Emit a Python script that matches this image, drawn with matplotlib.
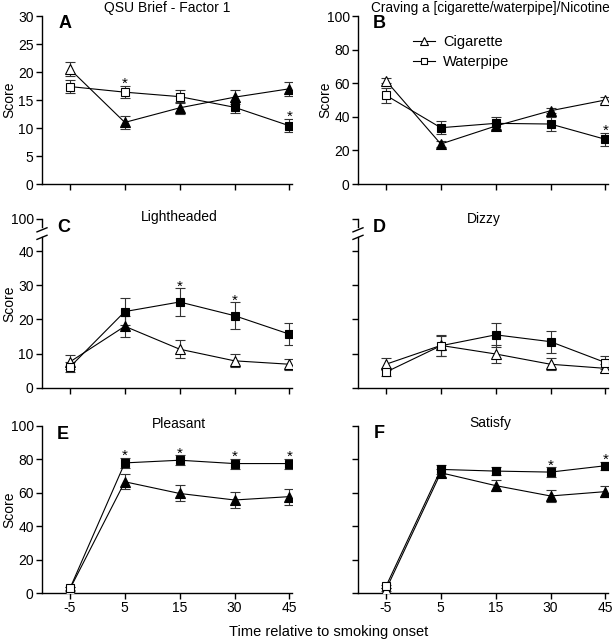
import numpy as np
import matplotlib
matplotlib.use('Agg')
import matplotlib.pyplot as plt
from matplotlib.lines import Line2D

plt.rcParams['font.family'] = ['Liberation Sans', 'DejaVu Sans']

times = ['-5', '5', '15', '30', '45']

# A - QSU Brief factor 1
qsu_cig = [20.5, 11.0, 13.6, 15.5, 17.0]
qsu_cig_sem = [1.2, 1.2, 1.1, 1.3, 1.2]
qsu_cig_fill = [0, 1, 1, 1, 1]
qsu_wp = [17.4, 16.4, 15.6, 13.7, 10.4]
qsu_wp_sem = [1.2, 1.1, 1.2, 1.0, 1.2]
qsu_wp_fill = [0, 0, 0, 1, 1]
qsu_star = [0, 1, 0, 0, 1]

# B - craving
crave_cig = [61.5, 23.8, 34.5, 43.6, 50.0]
crave_cig_sem = [1.5, 1.5, 2.0, 1.5, 1.5]
crave_cig_fill = [0, 1, 1, 1, 0]
crave_wp = [52.8, 33.5, 36.1, 35.7, 26.6]
crave_wp_sem = [4.5, 3.8, 4.0, 4.0, 4.0]
crave_wp_fill = [0, 1, 1, 1, 1]
crave_star = [0, 0, 0, 0, 1]

# C - lightheaded
light_cig = [7.6, 18.0, 11.3, 7.9, 6.9]
light_cig_sem = [2.0, 3.0, 2.7, 1.9, 1.6]
light_cig_fill = [0, 1, 0, 0, 0]
light_wp = [6.1, 22.3, 25.1, 21.1, 15.7]
light_wp_sem = [1.5, 3.9, 4.0, 3.9, 3.2]
light_wp_fill = [0, 1, 1, 1, 1]
light_star = [0, 0, 1, 1, 0]

# D - dizzy
dizzy_cig = [6.9, 12.4, 9.9, 6.9, 5.7]
dizzy_cig_sem = [1.8, 3.0, 2.7, 1.7, 1.2]
dizzy_cig_fill = [0, 0, 0, 0, 0]
dizzy_wp = [4.6, 12.3, 15.5, 13.5, 7.4]
dizzy_wp_sem = [1.2, 3.0, 3.5, 3.2, 2.0]
dizzy_wp_fill = [0, 0, 1, 1, 0]
dizzy_star = [0, 0, 0, 0, 0]

# E - pleasant
pleas_cig = [2.5, 66.6, 59.6, 55.7, 57.7]
pleas_cig_sem = [1.0, 4.5, 4.8, 4.8, 4.8]
pleas_cig_fill = [0, 1, 1, 1, 1]
pleas_wp = [2.8, 77.9, 79.5, 77.5, 77.5]
pleas_wp_sem = [1.0, 3.0, 3.0, 3.0, 3.0]
pleas_wp_fill = [0, 1, 1, 1, 1]
pleas_star = [0, 1, 1, 1, 1]

# F - satisfy
sat_cig = [2.0, 72.0, 64.3, 58.1, 60.7]
sat_cig_sem = [1.0, 2.5, 3.5, 3.5, 3.5]
sat_cig_fill = [0, 1, 1, 1, 1]
sat_wp = [4.0, 74.0, 73.0, 72.4, 76.2]
sat_wp_sem = [1.0, 2.5, 2.5, 2.8, 2.5]
sat_wp_fill = [0, 1, 1, 1, 1]
sat_star = [0, 0, 0, 1, 1]

fig = plt.figure(figsize=(6.13, 6.4), dpi=100)

LW = 0.8
ECOL = '#333333'


def draw_series(ax, y, sem, fill, marker, ms):
    x = np.arange(len(times))
    ax.errorbar(x, y, yerr=sem, color='black', lw=LW, ecolor=ECOL,
                elinewidth=LW, capsize=3.5, capthick=LW, zorder=2)
    for xi, yi, f in zip(x, y, fill):
        ax.plot(xi, yi, marker=marker, ms=ms, mfc='black' if f else 'white',
                mec='black', mew=LW, zorder=3, ls='none')


def panel(ax, cig, cig_sem, cig_fill, wp, wp_sem, wp_fill, stars):
    draw_series(ax, cig, cig_sem, cig_fill, '^', 7)
    draw_series(ax, wp, wp_sem, wp_fill, 's', 6)
    # significance marks sit over the waterpipe point
    for i, s in enumerate(stars):
        if s:
            ax.annotate('*', (i, wp[i] + wp_sem[i]), xytext=(0, -1.5),
                        textcoords='offset points', ha='center', va='baseline',
                        fontsize=11)
    ax.set_xlim(-0.51, 4.05)
    ax.set_xticks(np.arange(len(times)))
    ax.spines['top'].set_visible(False)
    ax.spines['right'].set_visible(False)
    ax.spines['left'].set_linewidth(1)
    ax.spines['bottom'].set_linewidth(1)
    ax.tick_params(direction='out', length=4, width=1, labelsize=10, pad=2)


def break_axis(ax, top):
    ax.spines['left'].set_bounds(0, 44.0)
    tr = ax.get_yaxis_transform()
    ax.plot([0, 0], [46.9, top], transform=tr, color='black', lw=1, clip_on=False)
    for yb in (44.0, 46.2):
        ax.plot([-0.02, 0.02], [yb - 0.6, yb + 0.6], transform=tr,
                color='black', lw=1, clip_on=False)


L1, L2, W = 0.0685, 0.584, 0.408
axA = fig.add_axes([L1, 0.7125, W, 0.2625])
axB = fig.add_axes([L2, 0.7125, W, 0.2625])
axC = fig.add_axes([L1, 0.394, W, 0.264])
axD = fig.add_axes([L2, 0.394, W, 0.264])
axE = fig.add_axes([L1, 0.0734, W, 0.261])
axF = fig.add_axes([L2, 0.0734, W, 0.261])

panel(axA, qsu_cig, qsu_cig_sem, qsu_cig_fill, qsu_wp, qsu_wp_sem, qsu_wp_fill, qsu_star)
panel(axB, crave_cig, crave_cig_sem, crave_cig_fill, crave_wp, crave_wp_sem, crave_wp_fill, crave_star)
panel(axC, light_cig, light_cig_sem, light_cig_fill, light_wp, light_wp_sem, light_wp_fill, light_star)
panel(axD, dizzy_cig, dizzy_cig_sem, dizzy_cig_fill, dizzy_wp, dizzy_wp_sem, dizzy_wp_fill, dizzy_star)
panel(axE, pleas_cig, pleas_cig_sem, pleas_cig_fill, pleas_wp, pleas_wp_sem, pleas_wp_fill, pleas_star)
panel(axF, sat_cig, sat_cig_sem, sat_cig_fill, sat_wp, sat_wp_sem, sat_wp_fill, sat_star)

axA.set_ylim(0, 30)
axA.set_yticks([0, 5, 10, 15, 20, 25, 30])
axB.set_ylim(0, 100)
axB.set_yticks([0, 20, 40, 60, 80, 100])

ctop = 49.4
for ax in (axC, axD):
    ax.set_ylim(0, ctop)
    ax.set_yticks([0, 10, 20, 30, 40, ctop])
    ax.set_yticklabels(['0', '10', '20', '30', '40', '100'])
    break_axis(ax, ctop)
axD.tick_params(labelleft=False)

for ax in (axE, axF):
    ax.set_ylim(0, 100)
    ax.set_yticks([0, 20, 40, 60, 80, 100])
axF.tick_params(labelleft=False)

for ax in (axA, axB, axC, axD):
    ax.tick_params(labelbottom=False)
for ax in (axE, axF):
    ax.set_xticklabels(times)

for ax in (axA, axB, axC, axE):
    ax.set_ylabel('Score', fontsize=10, va='center')
    ax.yaxis.set_label_coords(-0.13, 0.5)

titles = [
    (axA, 'QSU Brief - Factor 1', 1.78, 1.048, 10),
    (axB, 'Craving a [cigarette/waterpipe]/Nicotine', 1.9, 1.05, 9.8),
    (axC, 'Lightheaded', 2.0, 1.012, 10),
    (axD, 'Dizzy', 1.79, 1.0, 10),
    (axE, 'Pleasant', 1.98, 1.012, 10),
    (axF, 'Satisfy', 1.9, 1.018, 10),
]
for ax, t, tx, ty, fs in titles:
    ax.text(tx, ty, t, transform=ax.get_xaxis_transform(), ha='center',
            va='center', fontsize=fs)

letters = [(axA, 'A', 0.092, 0.958), (axB, 'B', 0.084, 0.958),
           (axC, 'C', 0.088, 0.947), (axD, 'D', 0.084, 0.947),
           (axE, 'E', 0.082, 0.952), (axF, 'F', 0.084, 0.955)]
for ax, lt, lx, ly in letters:
    ax.text(lx, ly, lt, transform=ax.transAxes, ha='center', va='center',
            fontsize=13, fontweight='bold')

handles = [Line2D([], [], color='black', lw=LW, marker='^', ms=5.5, mfc='white', mew=LW),
           Line2D([], [], color='black', lw=LW, marker='s', ms=5, mfc='white', mew=LW)]
axB.legend(handles, ['Cigarette', 'Waterpipe'], loc='upper left',
           bbox_to_anchor=(0.19, 0.93), frameon=False, fontsize=10.5,
           handlelength=1.5, handletextpad=0.6, labelspacing=0.4, borderpad=0)

fig.text(329 / 613, 1 - 632 / 640, 'Time relative to smoking onset', ha='center',
         va='center', fontsize=10.5)

fig.savefig('out.png', dpi=100)
